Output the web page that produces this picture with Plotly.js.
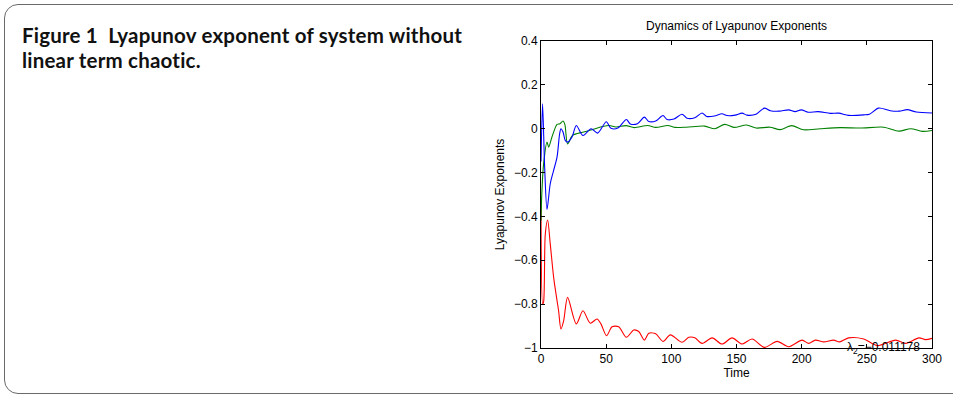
<!DOCTYPE html>
<html>
<head>
<meta charset="utf-8">
<script src="https://cdn.plot.ly/plotly-3.0.1.min.js"></script>
<style>
  html, body { margin:0; padding:0; background:#fff; width:953px; height:397px; overflow:hidden; }
  #frame { position:absolute; left:4px; top:4px; width:1100px; height:390px; border:1.5px solid #6a6a6a; border-radius:14px; box-sizing:border-box; }
  #caption { position:absolute; left:22px; top:23px; font-family:Lato, "Noto Sans", sans-serif; font-weight:700; font-size:20.5px; line-height:25px; letter-spacing:0.2px; font-variant-ligatures:none; font-feature-settings:"liga" 0; color:#111; }
  #chart { position:absolute; left:0; top:0; width:953px; height:397px; }
</style>
</head>
<body>
<div id="frame"></div>
<div id="caption">Figure 1&nbsp;&nbsp;Lyapunov exponent of system without<br>linear term chaotic.</div>
<div id="chart"></div>
<script>
// Lyapunov exponent 1 (blue)
var tBlue = [0, 1.2, 2.8, 4.6, 7.1, 9.7, 12.3, 14.3, 15.3, 16.9, 18.6, 20.4, 23.8, 27.1, 32.2, 38.4, 43.5, 50.1, 53.7, 59, 65.5, 68.5, 74, 79.3, 82.7, 88, 93.6, 96.7, 102, 108.2, 112, 118, 123.6, 127, 133, 138.9, 142.7, 149, 154.3, 158, 165, 171.4, 176, 183, 190, 195, 199.7, 205, 212.5, 222, 228.4, 236, 247.6, 252, 259, 268, 275, 281, 288, 300];
var yBlue = [-0.15, 0.114, -0.175, -0.368, -0.251, -0.19, -0.13, -0.023, 0.0, -0.015, -0.053, -0.061, -0.038, 0.015, -0.031, 0.0, -0.02, 0.032, 0.002, 0.003, 0.042, 0.022, 0.023, 0.053, 0.033, 0.035, 0.06, 0.042, 0.044, 0.066, 0.048, 0.05, 0.072, 0.056, 0.058, 0.068, 0.06, 0.062, 0.071, 0.062, 0.066, 0.094, 0.082, 0.08, 0.086, 0.078, 0.086, 0.075, 0.078, 0.07, 0.071, 0.061, 0.063, 0.066, 0.094, 0.082, 0.08, 0.087, 0.076, 0.072];

// Lyapunov exponent 2 (green)
var tGreen = [0, 0.6, 2, 4.6, 5.9, 8.4, 12.3, 14.3, 16.9, 18.3, 20.4, 24.3, 32, 39.7, 47.3, 52.5, 57.5, 65.2, 71.6, 81.9, 88, 97.3, 103, 111.5, 125.6, 133.3, 141, 148, 157.7, 165, 175.7, 183.4, 192.4, 201.4, 214.2, 229.6, 245, 263, 274.6, 283.6, 292.6, 300];
var yGreen = [-0.42, -0.3, -0.16, -0.061, -0.084, -0.038, 0.02, 0.022, 0.035, 0.02, -0.069, -0.03, -0.016, -0.004, 0.01, 0.015, 0.008, 0.014, 0.005, 0.015, 0.006, 0.015, 0.006, 0.007, 0.012, 0.0, 0.02, 0.006, 0.017, 0.003, 0.007, -0.004, 0.014, -0.005, 0.0, 0.005, 0.003, 0.007, -0.011, 0.0, -0.012, -0.008];

// Lyapunov exponent 3 (red)
var tRed = [0, 1.3, 2.0, 3.3, 5.1, 7.1, 9.7, 12.3, 13.5, 15.3, 17.4, 20.4, 27.1, 32.2, 37.8, 43, 46, 50.3, 54.5, 59.6, 65.5, 71.2, 75, 79.3, 82.7, 88, 93.6, 99.3, 108.2, 113.4, 118, 123.6, 131.3, 138.9, 146.6, 154.3, 162, 171.4, 181.2, 190, 200.3, 205.4, 210.5, 217, 224.6, 229, 236, 247.6, 258, 272.1, 279.8, 290, 295, 300];
var yRed = [-0.31, -0.8, -0.79, -0.48, -0.416, -0.525, -0.678, -0.784, -0.83, -0.913, -0.875, -0.769, -0.89, -0.83, -0.887, -0.868, -0.89, -0.944, -0.903, -0.903, -0.951, -0.918, -0.925, -0.964, -0.933, -0.935, -0.97, -0.94, -0.974, -0.951, -0.953, -0.979, -0.954, -0.982, -0.954, -0.982, -0.959, -0.997, -0.97, -0.994, -0.964, -0.979, -0.964, -0.972, -0.964, -0.972, -0.954, -0.959, -0.989, -0.964, -0.979, -0.954, -0.962, -0.956];

var xTicks = [0, 50, 100, 150, 200, 250, 300];
var yTicks = [-1, -0.8, -0.6, -0.4, -0.2, 0, 0.2, 0.4];
var yTickText = ["\u22121", "\u22120.8", "\u22120.6", "\u22120.4", "\u22120.2", "0", "0.2", "0.4"];
var lambdaLabel = "\u03bb<sub>2</sub>=\u22120.011178";
var lambdaPos = [233.5, -1];

var font = "Liberation Sans, Arial, Helvetica, sans-serif";
function line(t, y, c) {
  return { x: t, y: y, type: "scatter", mode: "lines", line: { color: c, width: 1.1, shape: "spline", smoothing: 0.8 }, hoverinfo: "skip" };
}
var data = [line(tRed, yRed, "#ff0000"), line(tGreen, yGreen, "#008000"), line(tBlue, yBlue, "#0000ff")];

var axisCommon = { showline: true, linecolor: "#000", linewidth: 1, mirror: "ticks", ticks: "inside", ticklen: 4, tickcolor: "#000", showgrid: false, zeroline: false, tickfont: { family: font, size: 12, color: "#000" } };

var layout = {
  width: 953, height: 397,
  margin: { l: 541, r: 21, t: 41, b: 49, pad: 0 },
  paper_bgcolor: "rgba(0,0,0,0)", plot_bgcolor: "#fff",
  showlegend: false,
  font: { family: font, size: 12, color: "#000" },
  title: { text: "Dynamics of Lyapunov Exponents", font: { family: font, size: 12, color: "#000" }, x: 0.5, xref: "paper", xanchor: "center", y: 1 - 26 / 397, yref: "container", yanchor: "middle" },
  xaxis: Object.assign({}, axisCommon, { range: [0, 300], tickvals: xTicks, ticktext: xTicks.map(String), title: { text: "Time", font: { family: font, size: 12 }, standoff: 2 } }),
  yaxis: Object.assign({}, axisCommon, { range: [-1, 0.4], tickvals: yTicks, ticktext: yTickText, title: { text: "Lyapunov Exponents", font: { family: font, size: 12 }, standoff: 6 } }),
  annotations: [{ x: lambdaPos[0], y: lambdaPos[1], xref: "x", yref: "y", text: lambdaLabel, showarrow: false, xanchor: "left", yanchor: "middle", font: { family: font, size: 12, color: "#000" } }]
};
Plotly.newPlot("chart", data, layout, { displayModeBar: false, staticPlot: true });
</script>
</body>
</html>
